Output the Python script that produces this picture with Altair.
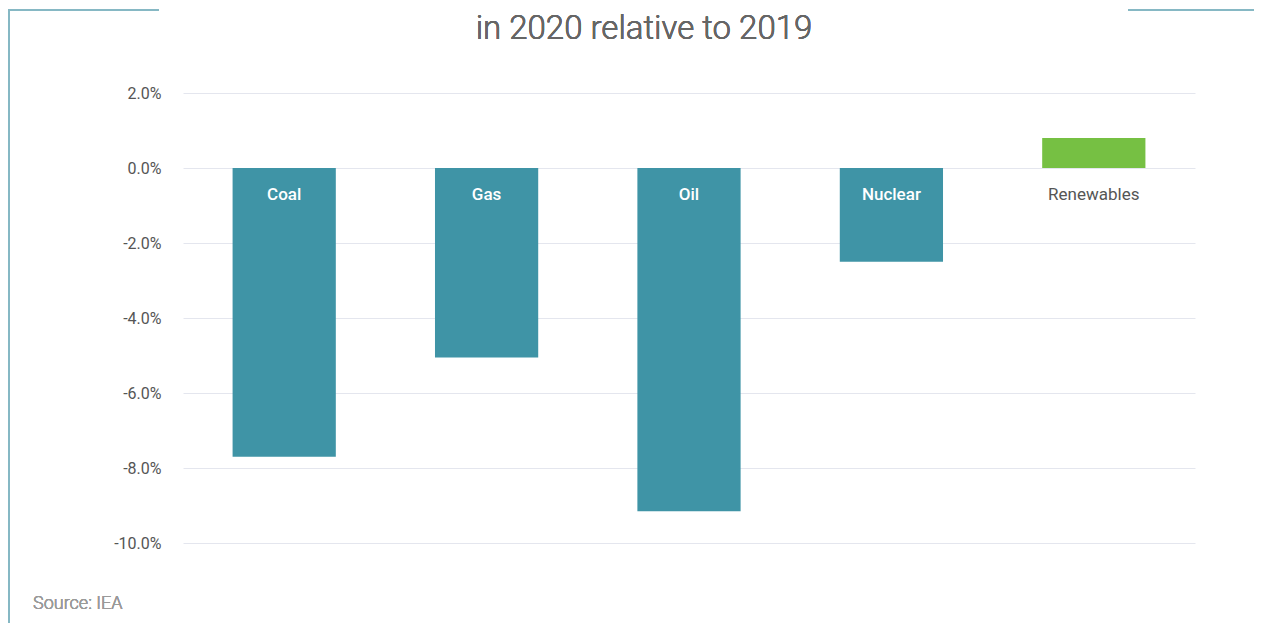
import altair as alt
import pandas as pd

categories = ["Coal", "Gas", "Oil", "Nuclear", "Renewables"]
values = [-7.7, -5.05, -9.15, -2.5, 0.8]
colors = ["#3f94a6", "#3f94a6", "#3f94a6", "#3f94a6", "#76c043"]
label_colors = ["#ffffff", "#ffffff", "#ffffff", "#ffffff", "#555555"]
y_ticks = [2, 0, -2, -4, -6, -8, -10]

df = pd.DataFrame({"cat": categories, "val": values, "color": colors,
                   "lcolor": label_colors, "zero": [0] * len(categories)})

x = alt.X("cat:N", sort=categories, axis=None,
          scale=alt.Scale(paddingInner=0.49, paddingOuter=0.245))

bars = alt.Chart(df).mark_bar().encode(
    x=x,
    y=alt.Y("val:Q", scale=alt.Scale(domain=[-10, 2], nice=False),
            axis=alt.Axis(values=y_ticks, title=None, domain=False, ticks=False,
                          grid=True, gridColor="#e4e6ee", gridWidth=1,
                          labelFontSize=16, labelColor="#555555", labelPadding=22,
                          labelFont="Roboto",
                          labelExpr="(datum.value < 0 ? '-' : '') + format(abs(datum.value), '.1f') + '%'")),
    y2="zero:Q",
    color=alt.Color("color:N", scale=None),
)

labels_neg = alt.Chart(df).transform_filter("datum.val < 0").mark_text(
    baseline="middle", dy=27, fontSize=17, font="Roboto", fontWeight=500).encode(
    x=x,
    y=alt.Y("zero:Q"),
    text="cat:N",
    color=alt.Color("lcolor:N", scale=None),
)
labels_pos = alt.Chart(df).transform_filter("datum.val >= 0").mark_text(
    baseline="middle", dy=27, fontSize=17, font="Roboto", fontWeight="normal").encode(
    x=x,
    y=alt.Y("zero:Q"),
    text="cat:N",
    color=alt.Color("lcolor:N", scale=None),
)

line_color = "#86b8c4"
deco_left = alt.Chart(df).mark_rule(color=line_color, strokeWidth=2).encode(
    x=alt.value(-174), y=alt.value(-83), y2=alt.value(530))
deco_top_left = alt.Chart(df).mark_rule(color=line_color, strokeWidth=2).encode(
    x=alt.value(-175), x2=alt.value(-24), y=alt.value(-83))
deco_top_right = alt.Chart(df).mark_rule(color=line_color, strokeWidth=2).encode(
    x=alt.value(945), x2=alt.value(1071), y=alt.value(-83))

title = alt.Chart(df).mark_text(align="center", baseline="middle", fontSize=33,
                                font="Roboto", fontWeight=300, color="#666666",
                                text="in 2020 relative to 2019").encode(
    x=alt.value(461), y=alt.value(-64))

source = alt.Chart(df).mark_text(align="left", baseline="middle", fontSize=18,
                                 font="Roboto", fontWeight=300, color="#9a9a9a",
                                 text="Source: IEA").encode(
    x=alt.value(-150), y=alt.value(511))

chart = alt.layer(bars, labels_neg, labels_pos, deco_left, deco_top_left,
                  deco_top_right, title, source).properties(
    width=1012, height=450,
    autosize=alt.AutoSizeParams(type="none"),
    padding={"left": 175, "top": 85, "right": 59, "bottom": 80},
).configure_view(stroke=None)

chart.save("out.html", embed_options={"renderer": "svg", "actions": False})
